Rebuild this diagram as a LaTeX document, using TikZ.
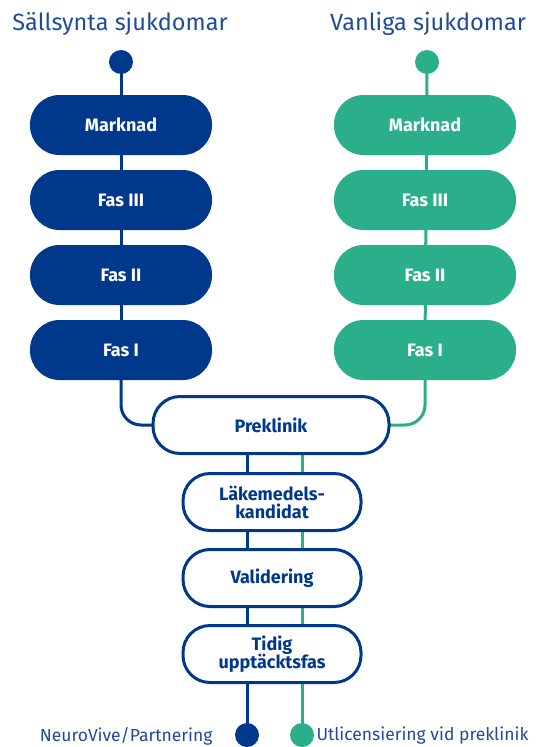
\documentclass[tikz,border=0pt]{standalone}
\usepackage{fontspec}
\setmainfont{Fira Sans}
\usetikzlibrary{backgrounds}
\definecolor{nvblue}{RGB}{0,56,140}
\definecolor{nvgreen}{RGB}{43,175,138}
\definecolor{titleblue}{RGB}{30,76,154}
\begin{document}
\begin{tikzpicture}[x=1pt,y=-1pt,
  solidbox/.style={rectangle,rounded corners=29.5pt,minimum width=182pt,minimum height=60pt,text=white,font=\fontsize{18}{20}\selectfont\bfseries,inner sep=0pt},
  bluebox/.style={solidbox,fill=nvblue},
  greenbox/.style={solidbox,fill=nvgreen},
  whitebox/.style={rectangle,rounded corners=27pt,draw=nvblue,line width=3pt,fill=white,minimum height=57pt,text=nvblue,font=\fontsize{18}{19}\selectfont\bfseries,align=center,inner sep=0pt},
  dot/.style={circle,minimum size=24pt,inner sep=0pt},
  bline/.style={draw=nvblue,line width=3pt},
  gline/.style={draw=nvgreen,line width=3pt},
  title/.style={text=titleblue,font=\fontsize{23.5}{25}\selectfont},
  bottomlabel/.style={text=titleblue,font=\fontsize{17.5}{19}\selectfont}
]
\useasboundingbox (0,0) rectangle (539,747);
% titles
\node[title] (tl) at (120,24) {Sällsynta sjukdomar};
\node[title] (tr) at (428,24) {Vanliga sjukdomar};
% top dots
\node[dot,fill=nvblue] (ldot) at (121,62) {};
\node[dot,fill=nvgreen] (rdot) at (427,62) {};
% left column
\node[bluebox] (lM) at (121,125) {Marknad};
\node[bluebox] (l3) at (121,200) {Fas III};
\node[bluebox] (l2) at (121,275) {Fas II};
\node[bluebox] (l1) at (121,350) {Fas I};
% right column
\node[greenbox] (rM) at (425,125) {Marknad};
\node[greenbox] (r3) at (425,200) {Fas III};
\node[greenbox] (r2) at (425,275) {Fas II};
\node[greenbox] (r1) at (425,350) {Fas I};
% center column
\node[whitebox,minimum width=236pt] (pre) at (271,425) {Preklinik};
\node[whitebox,minimum width=178pt] (lak) at (272,502) {Läkemedels-\\[-1pt]kandidat};
\node[whitebox,minimum width=178pt] (val) at (272,578) {Validering};
\node[whitebox,minimum width=178pt] (tid) at (272,654) {Tidig\\[-1pt]upptäcktsfas};
% bottom dots
\node[dot,fill=nvblue] (bdot) at (247,735) {};
\node[dot,fill=nvgreen] (gdot) at (302,735) {};
% bottom labels
\node[bottomlabel,anchor=east] (bl) at (216,736) {NeuroVive/Partnering};
\node[bottomlabel,anchor=west] (gl) at (313,736) {Utlicensiering vid preklinik};
% connectors
\begin{scope}[on background layer]
\draw[bline] (ldot.center) -- (l1.center);
\draw[gline] (rdot.center) -- (r1.center);
\draw[bline,rounded corners=20pt] (l1.center) |- (pre.center);
\draw[gline,rounded corners=20pt] (r1.center) |- (pre.center);
\draw[bline] (pre.center -| bdot) -- (bdot.center);
\draw[gline] (pre.center -| gdot) -- (gdot.center);
\end{scope}
\end{tikzpicture}
\end{document}
